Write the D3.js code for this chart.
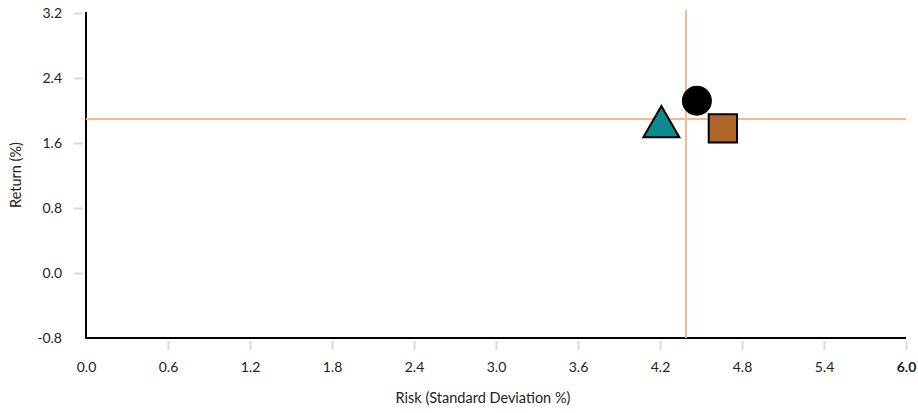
<!DOCTYPE html>
<html><head><meta charset="utf-8">
<script src="https://cdn.jsdelivr.net/npm/d3@7"></script>
<style>body{margin:0;background:#fff}svg{display:block}text{font-family:Lato,"Open Sans",sans-serif}</style>
</head><body><svg id="c" width="918" height="413"></svg>
<script>
const xTicks = [0.0,0.6,1.2,1.8,2.4,3.0,3.6,4.2,4.8,5.4,6.0];
const yTicks = [-0.8,0.0,0.8,1.6,2.4,3.2];
const names = ["Fund A","Fund B","Fund C"];
const risk = [4.47,4.21,4.66];
const ret = [2.12,1.80,1.78];
const shapes = ["circle","triangle","square"];
const fills = ["#000000","#0e8a8f","#b0662a"];
const avgRisk = 4.39;
const avgReturn = 1.895;

const fmt = d => d.toFixed(1);
const svg = d3.select("#c");
const x = d3.scaleLinear().domain([0,6]).range([86,906]);
const y = d3.scaleLinear().domain([-0.8,3.2]).range([338,13]);

const xa = svg.append("g").attr("transform","translate(0,341)")
  .call(d3.axisBottom(x).tickValues(xTicks).tickSize(9).tickPadding(12).tickFormat(fmt));
xa.select(".domain").remove();
xa.selectAll(".tick line").attr("stroke","#d9d9d9").attr("stroke-width",2)
  .attr("display",(d)=>d===0?"none":null);
xa.selectAll(".tick text").attr("fill","#222").attr("font-size",14)
  .attr("font-weight",d=>d===6?"bold":null);

const ya = svg.append("g").attr("transform","translate(83,0)")
  .call(d3.axisLeft(y).tickValues(yTicks).tickSize(9).tickPadding(12).tickFormat(fmt));
ya.select(".domain").remove();
ya.selectAll(".tick line").attr("stroke","#d9d9d9").attr("stroke-width",2)
  .attr("display",(d)=>d===-0.8?"none":null);
ya.selectAll(".tick text").attr("fill","#222").attr("font-size",14);

svg.append("line").attr("x1",x(0)).attr("x2",x(0)).attr("y1",y(3.2)-1).attr("y2",y(-0.8)+1)
  .attr("stroke","#000").attr("stroke-width",2);
svg.append("line").attr("x1",x(0)-1).attr("x2",x(6)).attr("y1",y(-0.8)).attr("y2",y(-0.8))
  .attr("stroke","#000").attr("stroke-width",2);

svg.append("line").attr("x1",x(0)).attr("x2",x(6)).attr("y1",y(avgReturn)).attr("y2",y(avgReturn))
  .attr("stroke","#f7b98b").attr("stroke-width",2);
svg.append("line").attr("x1",x(avgRisk)).attr("x2",x(avgRisk)).attr("y1",10).attr("y2",y(-0.8))
  .attr("stroke","#f7b98b").attr("stroke-width",2);

const symMap = {circle:d3.symbolCircle, triangle:d3.symbolTriangle, square:d3.symbolSquare};
const sizes = {circle:615, triangle:560, square:800};
svg.append("g").selectAll("path").data(names).join("path")
  .attr("transform",(d,i)=>`translate(${x(risk[i])},${y(ret[i])})`)
  .attr("d",(d,i)=>d3.symbol().type(symMap[shapes[i]]).size(sizes[shapes[i]])())
  .attr("fill",(d,i)=>fills[i]).attr("stroke","#000").attr("stroke-width",2);

svg.append("text").attr("x",483).attr("y",403).attr("text-anchor","middle")
  .attr("font-size",14.5).attr("fill","#222").text("Risk (Standard Deviation %)");
svg.append("text").attr("transform","translate(21,175) rotate(-90)").attr("text-anchor","middle")
  .attr("font-size",14.5).attr("fill","#222").text("Return (%)");
</script></body></html>
